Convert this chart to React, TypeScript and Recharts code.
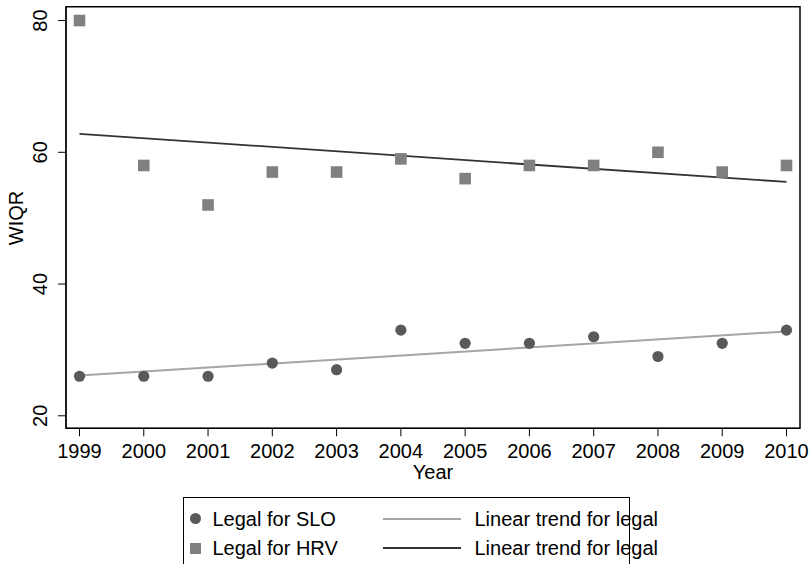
import { ComposedChart, Scatter, Line, XAxis, YAxis, ReferenceArea } from 'recharts';

const years = [1999, 2000, 2001, 2002, 2003, 2004, 2005, 2006, 2007, 2008, 2009, 2010];
const legalSLO = [26, 26, 26, 28, 27, 33, 31, 31, 32, 29, 31, 33];
const legalHRV = [80, 58, 52, 57, 57, 59, 56, 58, 58, 60, 57, 58];
// fitted trend, read at the two end years
const trendYears = [1999, 2010];
const trendSLO = [26.1, 32.8];
const trendHRV = [62.8, 55.5];
const yTicks = [20, 40, 60, 80];

const X_DOMAIN: [number, number] = [1998.79, 2010.21];
const Y_DOMAIN: [number, number] = [18.1, 82.1];

const data = years.map((year, i) => {
  const t = trendYears.indexOf(year);
  return {
    year,
    slo: legalSLO[i],
    hrv: legalHRV[i],
    sloTrend: t >= 0 ? trendSLO[t] : null,
    hrvTrend: t >= 0 ? trendHRV[t] : null,
  };
});

const FONT = '"Liberation Sans", Arial, sans-serif';
const CIRCLE = '#595959';
const SQUARE = '#808080';
const LIGHT = '#a6a6a6';
const DARK = '#333333';

const Dot = (p: any) => <circle cx={p.cx} cy={p.cy} r={5.6} fill={CIRCLE} />;
const Sq = (p: any) => <rect x={p.cx - 5.8} y={p.cy - 5.8} width={11.6} height={11.6} fill={SQUARE} />;

const YTick = (p: any) => (
  <text
    x={47}
    y={p.y}
    transform={`rotate(-90, 47, ${p.y})`}
    textAnchor="middle"
    fontSize={20}
    fontFamily={FONT}
    fill="#000"
  >
    {p.payload.value}
  </text>
);

export default function App() {
  return (
    <div style={{ position: 'absolute', left: 0, top: 0, width: 811, height: 564, background: '#fff', fontFamily: FONT }}>
      <ComposedChart width={811} height={564} data={data} margin={{ top: 6.7, right: 11, bottom: 0, left: 0 }}>
        <XAxis
          dataKey="year"
          type="number"
          domain={X_DOMAIN}
          ticks={years}
          allowDataOverflow
          height={135.7}
          tickSize={8}
          tickMargin={7}
          stroke="#000"
          tick={{ fill: '#000', fontSize: 20, fontFamily: FONT }}
          label={(p: any) => (
            <text x={p.viewBox.x + p.viewBox.width / 2} y={479} textAnchor="middle" fontSize={20} fontFamily={FONT} fill="#000">
              Year
            </text>
          )}
        />
        <YAxis
          type="number"
          domain={Y_DOMAIN}
          ticks={yTicks}
          allowDataOverflow
          width={66}
          tickSize={8}
          stroke="#000"
          tick={<YTick />}
          label={() => (
            <text x={23} y={218} transform="rotate(-90, 23, 218)" textAnchor="middle" fontSize={20} fontFamily={FONT} fill="#000">
              WIQR
            </text>
          )}
        />
        <ReferenceArea
          x1={X_DOMAIN[0]}
          x2={X_DOMAIN[1]}
          y1={Y_DOMAIN[0]}
          y2={Y_DOMAIN[1]}
          fill="none"
          stroke="#000"
          strokeWidth={1.5}
          ifOverflow="extendDomain"
        />
        <Line dataKey="sloTrend" stroke={LIGHT} strokeWidth={2} dot={false} connectNulls isAnimationActive={false} />
        <Line dataKey="hrvTrend" stroke={DARK} strokeWidth={1.8} dot={false} connectNulls isAnimationActive={false} />
        <Scatter dataKey="slo" shape={Dot} isAnimationActive={false} />
        <Scatter dataKey="hrv" shape={Sq} isAnimationActive={false} />
      </ComposedChart>
      <div
        style={{
          position: 'absolute',
          left: 182.5,
          top: 497,
          width: 447,
          height: 80,
          borderTop: '1.5px solid #000',
          borderLeft: '1.5px solid #000',
          borderRight: '1.5px solid #000',
          boxSizing: 'border-box',
          fontSize: 20,
          color: '#000',
        }}
      >
        {[
          { label: 'Legal for SLO', trend: LIGHT, mark: 'circle', y: 20.5 },
          { label: 'Legal for HRV', trend: DARK, mark: 'square', y: 50 },
        ].map((r) => (
          <div key={r.label}>
            {r.mark === 'circle' ? (
              <div style={{ position: 'absolute', left: 6, top: r.y - 5.5, width: 11, height: 11, borderRadius: '50%', background: CIRCLE }} />
            ) : (
              <div style={{ position: 'absolute', left: 6.5, top: r.y - 5.5, width: 11, height: 11, background: SQUARE }} />
            )}
            <div style={{ position: 'absolute', left: 29, top: r.y - 12, lineHeight: '24px', whiteSpace: 'nowrap' }}>{r.label}</div>
            <div style={{ position: 'absolute', left: 199, top: r.y - 1, width: 78, height: 2, background: r.trend }} />
            <div style={{ position: 'absolute', left: 291, top: r.y - 12, lineHeight: '24px', whiteSpace: 'nowrap' }}>Linear trend for legal</div>
          </div>
        ))}
      </div>
    </div>
  );
}
